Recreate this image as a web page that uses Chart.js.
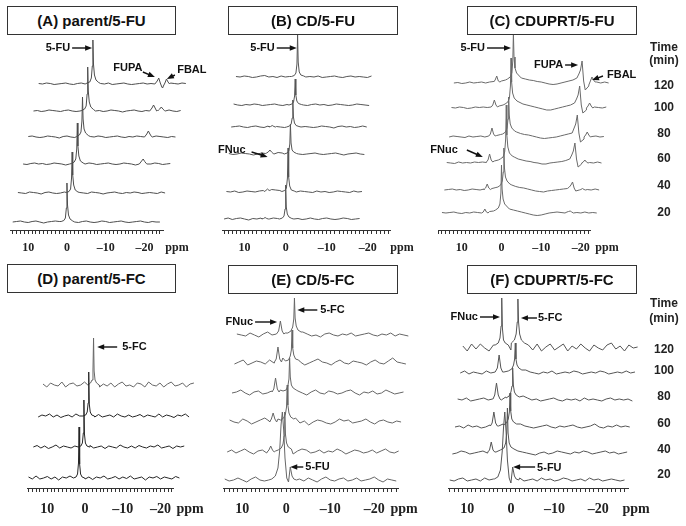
<!DOCTYPE html>
<html>
<head>
<meta charset="utf-8">
<script src="https://cdn.jsdelivr.net/npm/chart.js@4.4.0/dist/chart.umd.min.js"></script>
<style>
  body { margin: 0; width: 686px; height: 526px; position: relative; overflow: hidden; background: #fff;
         font-family: "Liberation Sans", Arial, sans-serif; }
  canvas { position: absolute; left: 0; top: 0; }
  .title { position: absolute; box-sizing: border-box; height: 29px; border: 1px solid #333; background: #fff;
           text-align: center; font-weight: bold; font-size: 15px; line-height: 27px; color: #111; z-index: 2; }
  .tm { position: absolute; width: 44px; text-align: center; font-weight: bold; font-size: 12px;
        line-height: 14px; color: #222; z-index: 2; }
</style>
</head>
<body>
<canvas id="cA" width="686" height="526"></canvas>
<canvas id="cB" width="686" height="526"></canvas>
<canvas id="cC" width="686" height="526"></canvas>
<canvas id="cD" width="686" height="526"></canvas>
<canvas id="cE" width="686" height="526"></canvas>
<canvas id="cF" width="686" height="526"></canvas>

<div class="title" style="left:7px;top:6px;width:169px">(A) parent/5-FU</div>
<div class="title" style="left:228px;top:6px;width:170px">(B) CD/5-FU</div>
<div class="title" style="left:467px;top:6px;width:170px">(C) CDUPRT/5-FU</div>
<div class="title" style="left:7px;top:264px;width:169px">(D) parent/5-FC</div>
<div class="title" style="left:228px;top:265px;width:170px">(E) CD/5-FC</div>
<div class="title" style="left:467px;top:265px;width:170px">(F) CDUPRT/5-FC</div>

<div id="times"></div>

<script>
// ---- data -------------------------------------------------------------
// Time points (min) of the stacked spectra, bottom to top.
const times = [20, 40, 60, 80, 100, 120];

// Peak shapes: ppm offsets from a peak centre. Values for each peak are given per trace below.
const SHAPES = {
  narrow: [1.5, 0.8, 0.4, 0.15, 0, -0.15, -0.4, -0.8, -1.5],
  small: [0.8, 0.4, 0, -0.4, -0.8],
  broad: [2.4, 1.6, 1.0, 0.6, 0.3, 0, -0.3, -0.6, -1.0, -1.4, -1.8, -2.2, -2.6, -3.2]
};

// (A) parent/5-FU : baseline sampled every 1 ppm from 14 ppm, 5-FU at 0, FUPA -17, FBAL -19
const aOffsets = [8, 37, 66, 93, 119, 146];
const aBase = [
  [0,0.5,1,0,-0.5,0.5,1,0,-1,0, 0.5,1,0.5,0,0,0,0,-0.5,0.5,1, 0,-0.5,0,1,0.5,-0.5,0,0.5,1,0, -0.5,0,0.5,1,0,-0.5,0.5,0,0],
  [0.5,0,-0.5,1,0.5,0,-1,0.5,1,0, -0.5,0,1,0.5,0,0,0.5,0,-0.5,1, 0.5,0,-1,0,0.5,1,0,-0.5,0.5,0, 1,0.5,-0.5,0,0.5,0,-0.5,1,0],
  [0,-0.5,0.5,1,0,0.5,-0.5,0,1,0.5, 0,-1,0,0.5,0,0,0,1,0.5,-0.5, 0,0.5,1,0,-0.5,0,1,0.5,0,-1, 0,0.5,0,0,1,0.5,-0.5,0,0.5],
  [0.5,1,0,-0.5,0,1,0.5,0,-1,0.5, 1,0,-0.5,0.5,0,0,0.5,0,1,0.5, -0.5,0,0.5,1,0,-0.5,0.5,0,1,0.5, 0,-0.5,0,1,0.5,0,-0.5,0.5,0],
  [0,0.5,-0.5,0,1,0.5,0,-0.5,0.5,1, 0,-0.5,0,1,0,0,0,0.5,-0.5,0, 1,0.5,0,-1,0,0.5,1,0,-0.5,0.5, 0,0,0.5,0,0,1,0,-0.5,0.5],
  [0.5,0,1,0.5,-0.5,0,0.5,1,0,-0.5, 0.5,1,0,0,0.5,0,0.5,0,1,-0.5, 0,0.5,1,0,-0.5,0,0.5,1,0,0.5, 0,0,-4,0,1,0.5,0,1,0.5]
];
const aMain = [
  [0.5,1.5,4,14,39,17,7,3,1], [0.5,1.5,4,15,41,18,8,3,1], [0.5,2,5,15,41,18,8,3,1],
  [0.5,2,5,16,40,18,8,4,1.5], [0.5,2,5,17,44,20,9,4,1.5], [1,2,6,18,44,20,9,4,1.5]
];
const aFupa = [null, null, [1,3,5,2.5,0.5], [1,3,6,3,0.5], [1,3,6,3,0], [1,3,6,1,-3]];
const aFbal = [null, null, null, null, [0.5,2,4,2,0.5], [-2,1,5,2,0]];

// (B) CD/5-FU : baseline from 15 ppm, 5-FU at 0, FNuc at 5
const bOffsets = [11, 38, 76, 103, 125, 153];
const bBase = [
  [0,1,-0.5,0.5,1,0,-1,0.5,0,1, -0.5,0,1,0.5,1,0,0,0,0.5,-0.5, 0,1,0,-0.5,0.5,1,0,-0.5,0,1, 0.5,-0.5,0,0.5],
  [0.5,0,1,-0.5,0,1,0.5,0,1,1.5, 2,2.5,2,1.5,2,0,0,0,1,0.5, 0,-0.5,1,0,0.5,-0.5,0,1,0.5,0, -0.5,1,0,0.5],
  [0.5,-0.5,0,1,0.5,0,-1,0,1,0.5, 1,0,1.5,1,-0.5,0,0,0,-0.5,0, 0.5,1,0,-0.5,0,0.5,1,0,-1,0, 0.5,1,0,-0.5],
  [0,0.5,1,0,-0.5,0.5,1,0,-0.5,1, 0,0.5,0,-0.5,1,0,0,0,0.5,0, -0.5,0,1,0.5,0,-1,0.5,1,0,0.5, -0.5,0,1,0],
  [1,0,-0.5,0.5,0,1,0.5,-0.5,0,0.5, 1,0,-0.5,0.5,0,0,0,0,-0.5,0.5, 1,0,0.5,-0.5,0,1,0.5,0,-0.5,0, 1,0.5,0,-0.5],
  [0.5,0,1,0.5,-0.5,0,1,1.5,0,0.5, -0.5,1,0,0.5,1,0,0,0,0.5,0, 1,-0.5,0,0.5,1,0,-0.5,0.5,1,0, 0.5,0,-0.5,1]
];
const bMain = [
  [0,1,3,10,34,12,5,2,0.5], [0.5,1.5,4,14,44,15,6,2,1], [0,1,3,10,30,11,4,2,0.5],
  [0,1,3,9,27,10,4,1.5,0.5], [0,1,3,9,26,10,4,1.5,0.5], [0.5,1.5,4,13,42,15,5,2,1]
];
const bFnuc = [[0,0.5,1.5,0.5,0], [0.5,1.5,3,1.5,2], [1,2,4,2,0.5], [0,0.5,1.5,0.5,0], null, null];

// (C) CDUPRT/5-FU : baseline from 15 ppm, 5-FU at 0, FNuc 4.2, FUPA -17.3, FBAL -19.8
const cOffsets = [17, 40, 67, 93, 122, 147];
const cBase = [
  [0.5,0,0.5,1,0,-0.5,0.5,0,1,0.5, 0,0,1.5,2,0,0,0,4,3,2, 1,0,-1,-2,-2.5,-2,-1,0,0.5,1, 0.5,0,0,0,0.5,0,1,0,0.5,0],
  [0,0.5,1,0,0.5,-0.5,0,1,0.5,0, 1,0,1.5,2.5,0,0,0,5,3.5,2.5, 2,1,0,-1,-1.5,-2,-1,-0.5,0,0.5, 1,1.5,0,0,0,0,0.5,0,1,0],
  [0.5,0,-0.5,1,0,0.5,0,1,0.5,1, 0.5,0,2,3,0,0,0,6,4,3, 2,1.5,0.5,0,-1,-1,0,0.5,1,1.5, 2.5,4,0,0,-1,0,0.5,0,1,0],
  [0,1,0.5,0,-0.5,1,0,0.5,1,0, 1,0,1.5,2.5,0,0,0,5,3.5,2.5, 2,1,0,-1,-1.5,-1,-0.5,0,1,2, 3,4,0,0,-2,0,0.5,1,0,0.5],
  [0.5,0,1,0.5,-0.5,0,1,0.5,1,0.5, 1,0,2,3,0,0,0,6,4,3, 2,1,0,-1,-2,-2,-1,0,1,2, 3,5,0,0,-2,0,1,0.5,0,1],
  [0,0.5,-0.5,0,1,0,0.5,1,0,1, 1.5,0,2,3,0,0,0,5,4,3, 2.5,1.5,1,0,-1,-1.5,-1,0,1,2, 3,5,0,0,-3,0,1,0,1,0]
];
const cMain = [
  [3,5,9,20,48,24,14,9,6], [3,5,9,18,42,22,13,9,6], [4,6,11,24,58,28,16,10,7],
  [3,5,9,18,40,22,13,9,6], [4,6,10,22,50,26,15,10,7], [4,6,10,22,50,26,15,10,7]
];
const cFnuc = [[0,1,4,1,0], [0.5,2,6,2,0.5], [1,3,9,3,1], [1,3,9,3,1], [1,3,8,3,1], [1,3,7,2,1]];
const cFupa = [[1,1.5,2,1,0], [3,5,8,2,-1], [8,12,20,4,-4], [9,13,22,4,-5], [9,13,22,3,-5], [9,13,22,2,-7]];
const cFbal = [null, [0,0.5,1.5,0.5,0], [0,1,3,1,0], [0,2,5,2,0], [0,2,5,2,0], [-2,2,6,3,1]];

// (D) parent/5-FC : baseline from 15 ppm, 5-FC at 1.6 (20, 40, 60, 80 min)
const dOffsets = [10, 41, 72, 103];
const dBase = [
  [1,-1,2,-1,0,1.5,-1,1,-2,1, 0,2,0,0,0,-1,1,-1.5,1,0, 2,-1,0,1.5,-1,1,-0.5,2,-1,0, 1,-2,1,0,1.5,-1,1,0,-1,1.5, 0],
  [0,1.5,-1,1,-1.5,0,2,-1,1,0, -1,1,0,0,0,1.5,-1,0,1,-1.5, 1,0,-1,2,0,-1,1,-1,1.5,0, -1,1,0,2,-1,0,1,-1.5,1,0, 1],
  [-1,1,0,2,-1,1,-1.5,0,1,-1, 2,0,0,0,0,-1,1.5,-1,0,1, -1,2,0,-1,1,-1,0,1.5,-1,1, 0,-1,2,-1,1,0,-1.5,1,0,2, -1],
  [1,-2,2,0,-1,3,-2,1,2,-1, 0,3,0,0,0,-2,1,-1,2,-2, 1,3,-1,0,-2,2,1,-2,3,0, -1,2,-2,1,3,-1,0,2,-2,1, 2]
];
const dMain = [[0,1,4,15,51,14,4,1,0], [0,1,4,14,47,13,4,1,0], [0,1,4,13,44,12,4,1,0], [0,2,5,15,47,14,5,2,0]];

// (E) CD/5-FC : baseline from 14 ppm, 5-FC at 0.9 (5-FU shoulder at 20 min), FNuc 4.1
const eOffsets = [8, 36, 66, 95, 125, 153];
const eBase = [
  [1,-1,0,2,0,-2,1,3,0,-1, 0,0,0,0,0,0,0,1,-1,2, 0,-2,1,3,0,-1,1,2,-1,0, 2,-1,0,1,3,0,-2,1,0,-1],
  [0,2,-1,1,3,0,-2,1,2,-1, 0,1,0,0,0,-2,1,3,2,-1, 0,2,-1,1,0,3,1,-2,0,2, 1,-1,0,2,-1,1,3,0,-1,1],
  [2,0,-1,3,1,-2,0,2,4,1, 0,3,0,0,0,4,-1,1,-3,0, 2,1,-1,-2,0,3,1,2,-1,0, 1,3,0,-2,1,2,0,-1,1,0],
  [0,1,3,0,-2,1,2,-1,0,2, 0,3,0,0,0,2,0,-2,1,3, 0,-1,2,1,-1,0,2,3,0,-2, 1,0,2,-1,0,3,1,-1,0,1],
  [-1,1,3,-2,0,2,1,-1,3,0, 0,5,0,0,0,1,-2,0,2,4, 1,0,-2,1,3,0,-1,2,1,0, -2,1,3,0,-1,2,5,1,0,-1],
  [1,0,-1,2,0,-2,1,3,0,1, 0,2,0,0,0,3,1,-1,0,-2, 1,2,0,-1,1,0,2,-1,0,1, 2,0,-1,1,0,2,-1,1,0,-1]
];
const eMain = [
  [1,4,12,30,55,68,50,22,2,-2,13,4,1,0],
  [2,4,8,16,40,18,9,5,3], [2,4,8,15,37,17,9,5,3], [2,3,7,14,35,16,8,5,3],
  [2,3,7,13,33,15,8,4,3], [2,4,8,16,37,17,9,5,3]
];
const eFnuc = [null, [0,2,6,2,0], [0,3,9,3,0], [1,4,15,4,1], [1,4,16,4,1], [1,4,14,4,1]];

// (F) CDUPRT/5-FC : baseline from 14 ppm, 5-FC at 1.4 (5-FU shoulder at 20 min), FNuc 5.1
const fOffsets = [8, 35, 61, 88, 115, 140];
const fBase = [
  [0,-1,1,2,-1,0,1,-1,2,0, 1,0,0,0,0,0,2,-1,0,1, -1,2,0,1,-1,0,2,1,-1,0, 1,-1,2,0,1,-1,0,1,0,-1, 0],
  [-1,0,2,1,-1,0,1,2,0,0, 1,3,0,0,0,2,1,0,-1,-2, 0,1,-1,0,2,1,0,-1,1,0, 2,1,-1,0,1,2,0,1,-1,0, 1],
  [0,1,-1,2,0,1,-1,0,2,0, 1,3,0,0,0,3,1,0,-1,0, 1,2,0,-1,1,0,1,2,0,-1, 0,1,3,0,-1,1,0,2,0,1, 0],
  [1,0,2,-1,0,1,2,0,1,0, 0,3,0,0,0,4,2,0,1,-1, 0,1,2,0,-1,1,0,1,-1,2, 0,1,0,-1,1,2,0,1,0,1, -1],
  [0,2,-1,1,0,-1,2,0,1,0, 1,2,0,0,0,3,1,0,-1,1, 0,2,-1,0,1,0,2,1,-1,0, 1,0,2,1,-1,0,1,0,2,0, 1],
  [2,-3,4,-1,4,0,-3,3,0,0, 0,-2,0,0,0,3,-2,4,-3,1, 4,-2,1,4,-3,2,-1,4,0,-3, 3,0,-2,3,5,-1,2,-3,3,0, 1]
];
const fMain = [
  [1,3,10,28,52,68,48,20,2,-3,13,4,1,0],
  [3,5,10,20,45,20,10,6,4], [2,4,8,15,34,16,8,5,3], [2,4,8,14,32,15,8,5,3],
  [2,4,8,14,30,14,8,5,3], [5,8,14,26,49,26,14,8,5]
];
const fFnuc = [null, [1,3,11,3,1], [1,4,15,4,1], [1,5,17,5,1], [1,5,18,5,1], [3,5,10,22,50,20,8,5,3]];

// ---- traces -----------------------------------------------------------
const aTraces = aBase.map((base, k) => ({ base, peaks: [
  { at: 0, shape: 'narrow', v: aMain[k] }, { at: -17, shape: 'small', v: aFupa[k] }, { at: -19, shape: 'small', v: aFbal[k] }] }));
const bTraces = bBase.map((base, k) => ({ base, peaks: [
  { at: 0, shape: 'narrow', v: bMain[k] }, { at: 5, shape: 'small', v: bFnuc[k] }] }));
const cTraces = cBase.map((base, k) => ({ base, peaks: [
  { at: 0, shape: 'narrow', v: cMain[k] }, { at: 4.2, shape: 'small', v: cFnuc[k] },
  { at: -17.3, shape: 'small', v: cFupa[k] }, { at: -19.8, shape: 'small', v: cFbal[k] }] }));
const dTraces = dBase.map((base, k) => ({ base, peaks: [{ at: 1.6, shape: 'narrow', v: dMain[k] }] }));
const eTraces = eBase.map((base, k) => ({ base, peaks: [
  { at: 0.9, shape: k === 0 ? 'broad' : 'narrow', v: eMain[k] }, { at: 4.1, shape: 'small', v: eFnuc[k] }] }));
const fTraces = fBase.map((base, k) => ({ base, peaks: [
  { at: 1.4, shape: k === 0 ? 'broad' : 'narrow', v: fMain[k] }, { at: 5.1, shape: k === 5 ? 'narrow' : 'small', v: fFnuc[k] }] }));

// Peak labels: tip in data units (ppm, intensity), tail and text offsets in px.
const aNotes = [
  { text: '5-FU', ppm: -6.5, y: 182, tail: [-20, 0], label: [-22, 0], align: 'right' },
  { text: 'FUPA', ppm: -22.7, y: 153, tail: [-12, -5], label: [-27, -9], align: 'center' },
  { text: 'FBAL', ppm: -25.8, y: 151, tail: [8, -4], label: [25, -9], align: 'center' }
];
const bNotes = [
  { text: '5-FU', ppm: -2.7, y: 182, tail: [-20, 0], label: [-22, 0], align: 'right' },
  { text: 'FNuc', ppm: 4.4, y: 73, tail: [-16, -5], label: [-22, -7], align: 'right' }
];
const cNotes = [
  { text: '5-FU', ppm: -2.4, y: 182, tail: [-24, 0], label: [-26, 0], align: 'right' },
  { text: 'FUPA', ppm: -19.3, y: 165, tail: [-13, 0], label: [-15, 0], align: 'right' },
  { text: 'FBAL', ppm: -22.8, y: 150, tail: [11, -4], label: [15, -5], align: 'left' },
  { text: 'FNuc', ppm: 4.7, y: 73, tail: [-16, -7], label: [-25, -7], align: 'right' }
];
const dNotes = [{ text: '5-FC', ppm: -3.2, y: 141, tail: [20, 0], label: [25, 0], align: 'left' }];
const eNotes = [
  { text: '5-FC', ppm: -2.5, y: 178, tail: [20, 0], label: [23, 0], align: 'left' },
  { text: 'FNuc', ppm: 2.1, y: 166, tail: [-22, 0], label: [-24, 0], align: 'right' },
  { text: '5-FU', ppm: -0.9, y: 21, tail: [13, 0], label: [15, 0], align: 'left' }
];
const fNotes = [
  { text: 'FNuc', ppm: 2.5, y: 171, tail: [-20, 0], label: [-22, 0], align: 'right' },
  { text: '5-FC', ppm: -2.3, y: 170, tail: [16, 0], label: [17, 0], align: 'left' },
  { text: '5-FU', ppm: -0.5, y: 21, tail: [22, 0], label: [24, 1], align: 'left' }
];

const PANELS = [
  { id: 'cA', traces: aTraces, offsets: aOffsets, gridStart: 14, shift: 1.34, ppm: [14.7, -24.8],
    box: { left: 10, right: 163, top: 0, axis: 230 }, color: '#4d4d4d', tick: 12, ppmGap: 14, notes: aNotes },
  { id: 'cB', traces: bTraces, offsets: bOffsets, gridStart: 15, shift: 0.58, ppm: [15.5, -25.4],
    box: { left: 222, right: 390, top: 0, axis: 230 }, color: '#555', tick: 12, ppmGap: 12, notes: bNotes },
  { id: 'cC', traces: cTraces, offsets: cOffsets, gridStart: 15, shift: 0.6, ppm: [16.0, -22.3],
    box: { left: 438, right: 590, top: 0, axis: 230 }, color: '#6a6a6a', tick: 12, ppmGap: 17, notes: cNotes },
  { id: 'cD', traces: dTraces, offsets: dOffsets, gridStart: 15, shift: 1.28, ppm: [15.4, -23.3],
    box: { left: 27, right: 173, top: 262, axis: 488 }, color: '#262626', topColor: '#666', tick: 14, ppmGap: 17, notes: dNotes },
  { id: 'cE', traces: eTraces, offsets: eOffsets, gridStart: 14, shift: 0.55, ppm: [14.4, -25.4],
    box: { left: 223, right: 398, top: 262, axis: 488 }, color: '#666', tick: 14, ppmGap: 6, notes: eNotes },
  { id: 'cF', traces: fTraces, offsets: fOffsets, gridStart: 14, shift: 0.6, ppm: [14.4, -26.8],
    box: { left: 448, right: 628, top: 262, axis: 488 }, color: '#555', tick: 14, ppmGap: 8, notes: fNotes }
];

// Merge baseline samples with peak points, then shift the k-th trace right (in ppm) and up.
function buildTrace(trace, gridStart, k, shift, offset) {
  const peaks = trace.peaks.filter(pk => pk.v);
  const ranges = peaks.map(pk => {
    const dx = SHAPES[pk.shape];
    return [pk.at + dx[dx.length - 1], pk.at + dx[0]];
  });
  const pts = [];
  trace.base.forEach((v, i) => {
    const ppm = gridStart - i;
    if (ranges.some(r => ppm > r[0] && ppm < r[1])) return;
    pts.push([ppm, v]);
  });
  peaks.forEach(pk => SHAPES[pk.shape].forEach((d, j) => pts.push([pk.at + d, pk.v[j]])));
  pts.sort((p, q) => q[0] - p[0]);
  return pts.map(([ppm, v]) => ({ x: ppm - k * shift, y: v + offset }));
}

function drawArrow(ctx, x0, y0, x1, y1) {
  const a = Math.atan2(y1 - y0, x1 - x0);
  const c = Math.cos(a), s = Math.sin(a);
  ctx.beginPath();
  ctx.moveTo(x0, y0);
  ctx.lineTo(x1 - 5 * c, y1 - 5 * s);
  ctx.stroke();
  ctx.beginPath();
  ctx.moveTo(x1, y1);
  ctx.lineTo(x1 - 7 * c + 2.8 * s, y1 - 7 * s - 2.8 * c);
  ctx.lineTo(x1 - 7 * c - 2.8 * s, y1 - 7 * s + 2.8 * c);
  ctx.closePath();
  ctx.fill();
}

const notesPlugin = {
  id: 'notes',
  afterDraw(chart, args, opts) {
    const { ctx, scales: { x, y } } = chart;
    const p = opts.panel;
    ctx.save();
    ctx.fillStyle = '#111';
    ctx.strokeStyle = '#111';
    ctx.lineWidth = 1.4;
    ctx.font = 'bold 11px "Liberation Sans", Arial, sans-serif';
    ctx.textBaseline = 'middle';
    p.notes.forEach(n => {
      const tx = x.getPixelForValue(n.ppm), ty = y.getPixelForValue(n.y);
      drawArrow(ctx, tx + n.tail[0], ty + n.tail[1], tx, ty);
      ctx.textAlign = n.align;
      ctx.fillText(n.text, tx + n.label[0], ty + n.label[1]);
    });
    // unit label after the axis
    ctx.fillStyle = '#222';
    ctx.textAlign = 'center';
    ctx.font = `bold ${p.tick}px "Liberation Serif", "Times New Roman", serif`;
    const ly = chart.chartArea.bottom + 4 + (p.tick === 12 ? 7 : 9) + p.tick * 0.6;
    ctx.fillText('ppm', x.right + p.ppmGap, ly);
    ctx.restore();
  }
};

function makePanel(p) {
  const datasets = p.traces.map((t, k) => ({
    data: buildTrace(t, p.gridStart, k, p.shift, p.offsets[k]),
    borderColor: (p.topColor && k === p.traces.length - 1) ? p.topColor : p.color,
    borderWidth: 1,
    pointRadius: 0,
    tension: 0,
    fill: false,
    clip: false
  }));
  const pad = { left: p.box.left, right: 686 - p.box.right, top: p.box.top, bottom: 526 - p.box.axis - (4 + 9 + p.tick * 1.2) };
  const chart = new Chart(document.getElementById(p.id), {
    type: 'line',
    data: { datasets },
    options: {
      responsive: false,
      animation: false,
      events: [],
      layout: { padding: pad, autoPadding: false },
      scales: {
        x: {
          type: 'linear', reverse: true, min: p.ppm[1], max: p.ppm[0], offset: false,
          border: { display: true, color: '#333', width: 1 },
          grid: { drawOnChartArea: false, drawTicks: true, tickLength: 4, color: '#333', lineWidth: 1 },
          ticks: {
            stepSize: 1, includeBounds: false, autoSkip: false, maxRotation: 0,
            padding: p.tick === 12 ? 7 : 9, color: '#222',
            font: { family: '"Liberation Serif", "Times New Roman", serif', weight: 'bold', size: p.tick },
            callback: v => (Math.round(v) % 10 === 0 ? (v < 0 ? '\u2013' + (-v) : String(v)) : '')
          }
        },
        y: { type: 'linear', display: false, min: 0, max: p.box.axis - p.box.top }
      },
      plugins: { legend: { display: false }, tooltip: { enabled: false }, notes: { panel: p } }
    },
    plugins: [notesPlugin]
  });
  const d = chart.chartArea.bottom - p.box.axis;
  if (Math.abs(d) > 0.2) {
    chart.options.layout.padding = Object.assign({}, pad, { bottom: pad.bottom + d });
    chart.update();
  }
}

PANELS.forEach(makePanel);

// Time column on the right of each row
const timeRows = [
  { head: [47, 60], at: [212, 185, 158, 133, 107, 85] },
  { head: [303, 318], at: [474, 449, 423, 396, 370, 349] }
];
const holder = document.getElementById('times');
timeRows.forEach(r => {
  const add = (txt, y) => {
    const el = document.createElement('div');
    el.className = 'tm';
    el.style.left = '642px';
    el.style.top = (y - 7) + 'px';
    el.textContent = txt;
    holder.appendChild(el);
  };
  add('Time', r.head[0]);
  add('(min)', r.head[1]);
  times.forEach((t, i) => add(String(t), r.at[i]));
});
</script>
</body>
</html>
